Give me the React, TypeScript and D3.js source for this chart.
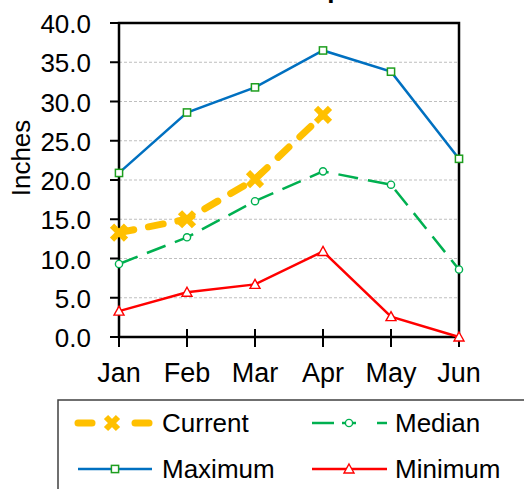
import React from "react";
import * as d3 from "d3";

const months = ["Jan", "Feb", "Mar", "Apr", "May", "Jun"];
const currentVals = [13.3, 15.0, 20.1, 28.3];
const medianVals = [9.3, 12.7, 17.3, 21.1, 19.4, 8.6];
const maximumVals = [20.9, 28.6, 31.8, 36.5, 33.8, 22.7];
const minimumVals = [3.3, 5.7, 6.7, 10.9, 2.6, 0.0];
const yTicks = [0, 5, 10, 15, 20, 25, 30, 35, 40];
const title = "Snowpack";

const W = 524;
const H = 489;
const L = 119, R = 459, T = 23, B = 337;
const FONT = "'Liberation Sans', Arial, sans-serif";

const ORANGE = "#FFC000";
const GREEN = "#00B050";
const BLUE = "#0070C0";
const RED = "#FF0000";
const SQ = "#1E9E1E";

function XMark({ x, y, s = 7, w = 6 }: { x: number; y: number; s?: number; w?: number }) {
  return (
    <path
      d={`M${x - s},${y - s}L${x + s},${y + s}M${x - s},${y + s}L${x + s},${y - s}`}
      stroke={ORANGE}
      strokeWidth={w}
      fill="none"
    />
  );
}
function Circ({ x, y }: { x: number; y: number }) {
  return <circle cx={x} cy={y} r={3.6} fill="white" stroke={GREEN} strokeWidth={1.4} />;
}
function Sq({ x, y }: { x: number; y: number }) {
  return <rect x={x - 3.6} y={y - 3.6} width={7.2} height={7.2} fill="white" stroke={SQ} strokeWidth={1.5} />;
}
function Tri({ x, y }: { x: number; y: number }) {
  return (
    <path d={`M${x},${y - 5}L${x + 5},${y + 4}L${x - 5},${y + 4}Z`} fill="white" stroke={RED} strokeWidth={1.4} />
  );
}

export default function App() {
  const x = d3.scalePoint<string>().domain(months).range([L, R]);
  const y = d3.scaleLinear().domain([0, 40]).range([B, T]);
  const line = d3
    .line<number>()
    .x((_, i) => x(months[i]) as number)
    .y((d) => y(d));

  return (
    <svg width={W} height={H} style={{ position: "absolute", left: 0, top: 0, background: "white" }} fontFamily={FONT}>
      <text x={258} y={-2} fontSize={26} fontWeight="bold" fill="#000">{title}</text>
      {/* grid */}
      {yTicks.filter((t) => t > 0 && t < 40).map((t) => (
        <line key={t} x1={L} x2={R} y1={y(t)} y2={y(t)} stroke="#BFBFBF" strokeWidth={1} strokeDasharray="3,2" />
      ))}
      {/* frame */}
      <rect x={L} y={T} width={R - L} height={B - T} fill="none" stroke="#000" strokeWidth={2.5} />
      {/* y ticks */}
      {yTicks.map((t) => (
        <g key={t}>
          <line x1={L - 9} x2={L} y1={y(t)} y2={y(t)} stroke="#000" strokeWidth={2} />
          <text x={91} y={y(t) + 10} fontSize={26} textAnchor="end" fill="#000">{t.toFixed(1)}</text>
        </g>
      ))}
      {/* x ticks */}
      {months.map((m) => (
        <g key={m}>
          <line x1={x(m)} x2={x(m)} y1={B - 8} y2={B + 10} stroke="#000" strokeWidth={2} />
          <text x={x(m)} y={382} fontSize={27} textAnchor="middle" fill="#000">{m}</text>
        </g>
      ))}
      <text transform="translate(30,158) rotate(-90)" fontSize={26} textAnchor="middle" fill="#000">Inches</text>

      {/* series */}
      <path d={line(maximumVals) || ""} fill="none" stroke={BLUE} strokeWidth={2.5} />
      {maximumVals.map((v, i) => <Sq key={i} x={x(months[i]) as number} y={y(v)} />)}
      <path d={line(minimumVals) || ""} fill="none" stroke={RED} strokeWidth={2.5} />
      {minimumVals.map((v, i) => <Tri key={i} x={x(months[i]) as number} y={y(v)} />)}
      <path d={line(medianVals) || ""} fill="none" stroke={GREEN} strokeWidth={2.5} strokeDasharray="20,10" />
      {medianVals.map((v, i) => <Circ key={i} x={x(months[i]) as number} y={y(v)} />)}
      <path d={line(currentVals) || ""} fill="none" stroke={ORANGE} strokeWidth={7} strokeDasharray="15,15" strokeLinecap="round" />
      {currentVals.map((v, i) => <XMark key={i} x={x(months[i]) as number} y={y(v)} />)}

      {/* legend */}
      <rect x={58} y={400} width={480} height={100} fill="white" stroke="#404040" strokeWidth={1.5} />
      <g>
        <line x1={78} x2={92} y1={423} y2={423} stroke={ORANGE} strokeWidth={7} strokeLinecap="round" />
        <line x1={135} x2={149} y1={423} y2={423} stroke={ORANGE} strokeWidth={7} strokeLinecap="round" />
        <XMark x={112} y={423} s={6} w={6} />
        <text x={162} y={432} fontSize={26} fill="#000">Current</text>

        <line x1={312} x2={334} y1={423} y2={423} stroke={GREEN} strokeWidth={2.5} />
        <line x1={342} x2={356} y1={423} y2={423} stroke={GREEN} strokeWidth={2.5} />
        <line x1={377} x2={387} y1={423} y2={423} stroke={GREEN} strokeWidth={2.5} />
        <Circ x={349} y={423} />
        <text x={395} y={432} fontSize={26} fill="#000">Median</text>

        <line x1={78} x2={152} y1={469} y2={469} stroke={BLUE} strokeWidth={2.5} />
        <Sq x={115} y={469} />
        <text x={162} y={478} fontSize={26} fill="#000">Maximum</text>

        <line x1={312} x2={387} y1={469} y2={469} stroke={RED} strokeWidth={2.5} />
        <Tri x={349} y={469} />
        <text x={395} y={478} fontSize={26} fill="#000">Minimum</text>
      </g>
    </svg>
  );
}
